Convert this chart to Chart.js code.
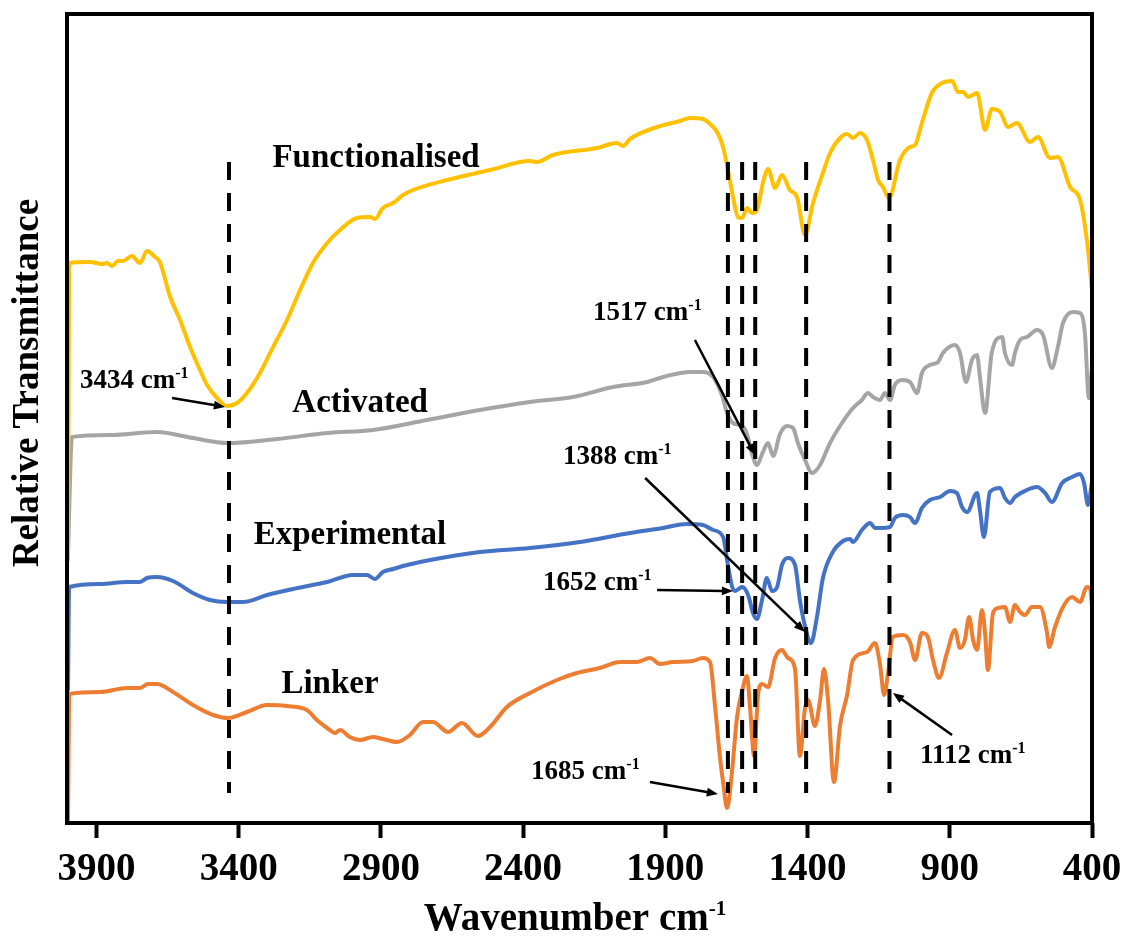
<!DOCTYPE html>
<html>
<head>
<meta charset="utf-8">
<title>FTIR spectra</title>
<script src="https://cdn.jsdelivr.net/npm/chart.js@4.4.0/dist/chart.umd.min.js"></script>
<style>
    html, body { margin: 0; padding: 0; background: #fff; }
    #wrap { width: 1124px; height: 942px; }
</style>
</head>
<body>
<div id="wrap"><canvas id="ftirChart" width="1124" height="942"></canvas></div>
<script>
// Tick labels on the wavenumber axis
const xTicks = [3900, 3400, 2900, 2400, 1900, 1400, 900, 400];

// Spectra: [wavenumber cm-1, relative transmittance (stacked, arbitrary units)]
const functionalised = [
    [4000,263],[3996,560],[3923,561],[3880,559],[3863,560],[3845,557],[3824,562],[3807,562],[3775,567],[3747,560],
    [3722,572],[3694,566],[3677,561],[3641,526],[3606,503],[3571,476],[3536,453],[3511,438],[3476,425],[3441,417],
    [3406,420],[3371,430],[3325,450],[3279,476],[3230,503],[3184,533],[3139,560],[3089,580],[3044,593],[2984,605],
    [2938,606],[2921,604],[2893,615],[2857,620],[2822,628],[2787,633],[2668,643],[2516,653],[2376,662],[2351,661],
    [2295,668],[2140,675],[2070,680],[2049,677],[2024,684],[1929,696],[1848,702],[1813,705],[1768,704],[1732,696],
    [1718,691],[1697,676],[1680,653],[1662,626],[1645,606],[1630,605],[1613,615],[1595,610],[1578,613],[1557,640],
    [1539,654],[1514,635],[1490,648],[1462,633],[1437,626],[1409,588],[1381,620],[1346,650],[1321,670],[1286,685],
    [1261,689],[1240,685],[1216,690],[1191,683],[1170,663],[1152,643],[1135,636],[1114,625],[1075,663],[1040,676],
    [1022,678],[998,700],[963,730],[927,740],[892,742],[871,731],[853,731],[836,726],[804,730],[776,693],
    [752,714],[723,711],[695,696],[664,700],[618,681],[590,686],[548,665],[520,666],[477,636],[442,623],
    [418,583],[400,533]
];
const activated = [
    [4000,270],[3986,386],[3852,388],[3687,391],[3561,385],[3441,380],[3265,384],[3089,390],[2928,393],[2738,403],
    [2552,413],[2376,421],[2225,426],[2084,436],[1964,441],[1908,446],[1813,451],[1768,451],[1732,446],[1701,428],
    [1683,410],[1662,400],[1630,397],[1613,389],[1595,369],[1578,358],[1557,371],[1539,380],[1521,367],[1497,389],
    [1472,397],[1451,395],[1434,380],[1409,363],[1384,350],[1356,358],[1321,380],[1286,397],[1240,415],[1209,423],
    [1188,430],[1170,426],[1145,423],[1128,430],[1110,423],[1093,438],[1068,443],[1040,441],[1015,430],[998,450],
    [970,458],[941,461],[924,470],[882,478],[864,470],[843,441],[822,463],[804,468],[794,446],[776,410],
    [752,471],[716,486],[706,470],[681,458],[671,470],[653,483],[629,486],[593,493],[572,488],[541,455],
    [520,476],[502,500],[467,511],[442,510],[425,490],[411,425],[400,455]
];
const experimental = [
    [4000,133],[3996,236],[3887,239],[3793,241],[3747,241],[3722,245],[3687,246],[3631,242],[3561,230],[3501,223],
    [3441,221],[3385,221],[3300,228],[3209,234],[3089,241],[2998,248],[2949,248],[2921,244],[2893,251],[2857,254],
    [2808,258],[2727,263],[2552,271],[2376,275],[2200,281],[2024,290],[1908,295],[1824,299],[1768,298],[1732,293],
    [1697,286],[1680,258],[1666,237],[1655,232],[1630,236],[1609,228],[1592,210],[1578,204],[1560,223],[1543,245],
    [1525,232],[1507,236],[1490,258],[1469,265],[1444,258],[1427,223],[1409,197],[1388,180],[1367,206],[1346,245],
    [1311,271],[1275,282],[1251,284],[1240,281],[1209,293],[1180,300],[1163,295],[1145,295],[1110,296],[1093,305],
    [1064,308],[1040,306],[1022,300],[998,315],[970,323],[934,326],[899,332],[875,330],[857,316],[839,311],
    [804,330],[794,313],[780,286],[759,331],[723,335],[706,325],[688,320],[671,326],[629,333],[593,336],
    [565,330],[541,321],[505,340],[470,346],[442,349],[428,340],[414,318],[400,341]
];
const linker = [
    [4000,0],[3996,129],[3887,131],[3793,135],[3747,135],[3719,139],[3687,139],[3631,131],[3561,118],[3490,108],
    [3437,105],[3371,111],[3300,118],[3230,117],[3160,113],[3125,103],[3089,95],[3061,90],[3044,93],[3009,86],
    [2973,83],[2928,86],[2893,84],[2843,81],[2798,88],[2752,101],[2717,101],[2664,91],[2615,100],[2559,87],
    [2516,96],[2457,116],[2376,130],[2281,143],[2211,150],[2130,155],[2059,161],[2000,161],[1954,165],[1919,159],
    [1873,161],[1803,162],[1768,165],[1743,161],[1725,116],[1708,66],[1697,41],[1683,15],[1666,50],[1648,106],
    [1630,132],[1613,147],[1602,115],[1588,67],[1574,128],[1560,139],[1539,136],[1514,165],[1490,173],[1469,165],
    [1444,154],[1427,67],[1409,115],[1398,123],[1374,97],[1356,123],[1342,154],[1328,123],[1307,41],[1286,97],
    [1261,128],[1240,163],[1191,171],[1163,180],[1145,158],[1131,128],[1117,150],[1100,186],[1064,188],[1040,181],
    [1022,163],[998,190],[977,186],[959,163],[938,145],[910,170],[882,193],[864,175],[847,183],[832,206],
    [818,183],[804,173],[787,213],[776,190],[766,153],[748,210],[730,215],[706,216],[688,201],[671,218],
    [653,211],[636,208],[611,216],[583,216],[558,190],[551,176],[530,196],[502,216],[470,226],[442,221],
    [418,236],[407,235],[400,216]
];

// Peak positions marked with dashed lines
const peakLines = [3434, 1680, 1630, 1584, 1405, 1112];

const seriesNames = ['Functionalised', 'Activated', 'Experimental', 'Linker'];

// Series name labels: [wavenumber, value] of the text centre/baseline
const seriesLabelPos = [[2917, 656], [2973, 411], [3009, 279], [3079, 130]];

// Peak callouts: label, text anchor, arrow start, arrow end (all in data units)
const callouts = [
    { label: '3434', at: [3958, 435], from: [3634, 425], to: [3448, 416] },
    { label: '1517', at: [2154, 503], from: [1796, 483], to: [1585, 368] },
    { label: '1388', at: [2260, 359], from: [1971, 345], to: [1409, 191] },
    { label: '1652', at: [2330, 233], from: [1929, 233], to: [1662, 232] },
    { label: '1685', at: [2372, 44],  from: [1954, 41],  to: [1715, 29] },
    { label: '1112', at: [1005, 60],  from: [892, 88],   to: [1100, 130] }
];

const colors = ['#FFC000', '#A5A5A5', '#4472C4', '#ED7D31'];
const serif = '"Liberation Serif", "Times New Roman", Times, serif';
const dashTop = 661, dashBottom = 30;

function toXY(arr) {
    return arr.map(p => ({ x: p[0], y: p[1] }));
}

// text with a "-1" style superscript
function drawSup(ctx, base, sup, x, y, size, align, ratio) {
    const supSize = Math.round(size * (ratio || 0.6));
    ctx.font = 'bold ' + size + 'px ' + serif;
    const wBase = ctx.measureText(base).width;
    ctx.font = 'bold ' + supSize + 'px ' + serif;
    const wSup = ctx.measureText(sup).width;
    let left = x;
    if (align === 'center') left = x - (wBase + wSup) / 2;
    ctx.textAlign = 'left';
    ctx.textBaseline = 'alphabetic';
    ctx.font = 'bold ' + size + 'px ' + serif;
    ctx.fillText(base, left, y);
    ctx.font = 'bold ' + supSize + 'px ' + serif;
    ctx.fillText(sup, left + wBase, y - size * 0.38);
    return left + wBase + wSup;
}

function drawArrow(ctx, x1, y1, x2, y2) {
    const ang = Math.atan2(y2 - y1, x2 - x1);
    const head = 12;
    ctx.beginPath();
    ctx.moveTo(x1, y1);
    ctx.lineTo(x2 - Math.cos(ang) * head * 0.7, y2 - Math.sin(ang) * head * 0.7);
    ctx.stroke();
    ctx.beginPath();
    ctx.moveTo(x2, y2);
    ctx.lineTo(x2 - head * Math.cos(ang - 0.38), y2 - head * Math.sin(ang - 0.38));
    ctx.lineTo(x2 - head * Math.cos(ang + 0.38), y2 - head * Math.sin(ang + 0.38));
    ctx.closePath();
    ctx.fill();
}

const decorPlugin = {
    id: 'decor',
    afterDatasetsDraw(chart) {
        const ctx = chart.ctx;
        const xs = chart.scales.x, ys = chart.scales.y;
        const ca = chart.chartArea;
        ctx.save();

        // frame
        ctx.strokeStyle = '#000';
        ctx.lineWidth = 4;
        ctx.strokeRect(ca.left - 1, ca.top, ca.right - ca.left + 1, ca.bottom - ca.top);

        ctx.fillStyle = '#000';

        // series names
        ctx.font = 'bold 33px ' + serif;
        ctx.textAlign = 'center';
        ctx.textBaseline = 'alphabetic';
        seriesNames.forEach((name, i) => {
            const p = seriesLabelPos[i];
            ctx.fillText(name, xs.getPixelForValue(p[0]), ys.getPixelForValue(p[1]));
        });

        // callouts
        ctx.lineWidth = 2.5;
        callouts.forEach(c => {
            drawSup(ctx, c.label + ' cm', '-1', xs.getPixelForValue(c.at[0]), ys.getPixelForValue(c.at[1]), 27, 'left');
            drawArrow(ctx,
                xs.getPixelForValue(c.from[0]), ys.getPixelForValue(c.from[1]),
                xs.getPixelForValue(c.to[0]), ys.getPixelForValue(c.to[1]));
        });

        // axis titles
        drawSup(ctx, 'Wavenumber cm', '-1', 575, 930, 39, 'center', 0.55);
        ctx.translate(38, 383);
        ctx.rotate(-Math.PI / 2);
        ctx.font = 'bold 37px ' + serif;
        ctx.textAlign = 'center';
        ctx.fillText('Relative Transmittance', 0, 0);
        ctx.restore();
    }
};

const dashSets = peakLines.map(wn => ({
    data: [{ x: wn, y: dashTop }, { x: wn, y: dashBottom }],
    borderColor: '#000',
    borderWidth: 4,
    borderDash: [18, 13],
    borderCapStyle: 'butt',
    pointRadius: 0,
    fill: false
}));

const spectra = [functionalised, activated, experimental, linker].map((arr, i) => ({
    label: seriesNames[i],
    data: toXY(arr),
    borderColor: colors[i],
    borderWidth: 4,
    pointRadius: 0,
    fill: false,
    cubicInterpolationMode: 'monotone',
    borderJoinStyle: 'round',
    borderCapStyle: 'round'
}));

new Chart(document.getElementById('ftirChart'), {
    type: 'line',
    data: { datasets: dashSets.concat(spectra) },
    options: {
        responsive: false,
        animation: false,
        layout: { padding: { left: 68, top: 14, right: 32, bottom: 0 } },
        plugins: { legend: { display: false }, tooltip: { enabled: false } },
        scales: {
            x: {
                type: 'linear',
                reverse: true,
                min: 400,
                max: 4000,
                afterBuildTicks: axis => { axis.ticks = xTicks.map(v => ({ value: v })); },
                afterFit: axis => {
                    axis.height = 119;
                    axis.paddingLeft = 0;
                    axis.paddingRight = 0;
                },
                border: { display: false },
                grid: {
                    drawOnChartArea: false,
                    drawTicks: true,
                    tickLength: 15,
                    tickWidth: 4,
                    tickColor: '#000'
                },
                ticks: {
                    autoSkip: false,
                    maxRotation: 0,
                    padding: 9,
                    color: '#000',
                    font: { family: serif, size: 39, weight: 'bold' },
                    callback: v => String(v)
                }
            },
            y: {
                display: false,
                min: 0,
                max: 809
            }
        }
    },
    plugins: [decorPlugin]
});
</script>
</body>
</html>
